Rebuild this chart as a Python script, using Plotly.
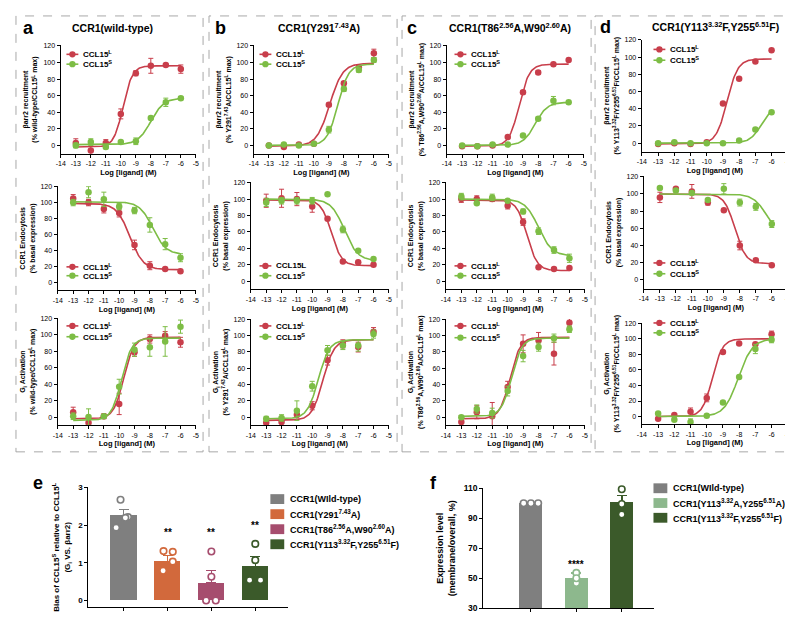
import numpy as np
import plotly.graph_objects as go

W, H = 793, 624
RED = "#c83e4b"
GREEN = "#7dbd45"
FONT = "Liberation Sans, Arial, sans-serif"

log_dose = [-13, -12, -11, -10, -9, -8, -7, -6]
x_ticks = [-14, -13, -12, -11, -10, -9, -8, -7, -6, -5]
y_ticks = [0, 20, 40, 60, 80, 100, 120]

# ---- beta-arrestin2 recruitment (top row) ----
a_barr_L = [3, -6, 3, 38, 87, 96, 97, 92]
a_barr_L_sem = [5, 5, 4, 6, 3, 9, 1, 5]
a_barr_S = [0, 4, -2, 4, 5, 33, 52, 57]
a_barr_S_sem = [3, 4, 2, 1, 4, 2, 5, 2]
a_barr_fit_L = [-2, 96, -9.85, 1.4]   # bottom, top, logEC50, hill slope
a_barr_fit_S = [1, 57, -8.0, 1.0]

b_barr_L = [0, -2, 1, 2, 49, 75, 94, 111]
b_barr_L_sem = [1, 1, 1, 1, 2, 2, 2, 5]
b_barr_S = [0, 1, 0, 2, 19, 68, 91, 103]
b_barr_S_sem = [1, 1, 1, 1, 4, 3, 3, 3]
b_barr_fit_L = [-1, 99, -8.95, 1.0]
b_barr_fit_S = [0, 98, -8.4, 1.2]

c_barr_L = [-1, -1, 0, 10, 64, 88, 98, 103]
c_barr_L_sem = [1, 1, 1, 1, 2, 2, 1, 1]
c_barr_S = [0, -1, 1, 1, 12, 32, 54, 52]
c_barr_S_sem = [1, 1, 1, 1, 1, 2, 5, 1]
c_barr_fit_L = [-1, 98, -9.25, 1.3]
c_barr_fit_S = [0, 52, -8.2, 1.1]

d_barr_L = [-1, 0, -1, 1, 46, 75, 95, 108]
d_barr_L_sem = [1, 1, 1, 1, 1, 1, 1, 1]
d_barr_S = [0, 1, 0, 0, 0, 3, 16, 36]
d_barr_S_sem = [1, 1, 1, 1, 1, 1, 1, 1]
d_barr_fit_L = [-1, 98, -8.75, 1.3]
d_barr_fit_S = [0, 45, -6.6, 1.2]

# ---- CCR1 endocytosis (middle row) ----
a_endo_L = [105, 100, 92, 87, 47, 21, 17, 14]
a_endo_L_sem = [5, 4, 5, 5, 6, 5, 1, 1]
a_endo_S = [100, 113, 104, 95, 90, 72, 48, 31]
a_endo_S_sem = [4, 7, 9, 4, 4, 9, 7, 5]
a_endo_fit_L = [16, 99, -9.3, -1.0]
a_endo_fit_S = [35, 101, -7.8, -1.0]

b_endo_L = [98, 101, 100, 91, 76, 24, 23, 20]
b_endo_L_sem = [8, 11, 8, 7, 1, 1, 1, 1]
b_endo_S = [96, 98, 98, 98, 106, 63, 37, 27]
b_endo_S_sem = [5, 4, 4, 4, 1, 4, 1, 1]
b_endo_fit_L = [19, 99, -8.75, -1.3]
b_endo_fit_S = [25, 100, -7.9, -1.0]

c_endo_L = [100, 100, 100, 92, 72, 17, 15, 16]
c_endo_L_sem = [4, 4, 3, 4, 4, 1, 1, 1]
c_endo_S = [103, 95, 102, 98, 85, 61, 38, 28]
c_endo_S_sem = [4, 1, 4, 1, 3, 4, 4, 5]
c_endo_fit_L = [13, 99, -8.75, -1.3]
c_endo_fit_S = [31, 100, -8.0, -1.0]

d_endo_L = [96, 106, 103, 90, 81, 40, 23, 17]
d_endo_L_sem = [6, 1, 8, 3, 1, 5, 1, 1]
d_endo_S = [107, 104, 101, 93, 106, 90, 85, 65]
d_endo_S_sem = [1, 1, 1, 1, 6, 4, 4, 4]
d_endo_fit_L = [19, 100, -8.3, -1.3]
d_endo_fit_S = [50, 100, -6.3, -1.0]

# ---- Gi activation (bottom row) ----
a_gi_L = [6, -7, 1, 16, 79, 95, 99, 91]
a_gi_L_sem = [6, 5, 3, 13, 5, 5, 5, 6]
a_gi_S = [1, 0, 1, 37, 82, 85, 92, 110]
a_gi_S_sem = [4, 10, 2, 9, 8, 11, 18, 8]
a_gi_fit_L = [-2, 97, -9.7, 1.3]
a_gi_fit_S = [-4, 96, -9.85, 1.3]

b_gi_L = [-7, -6, 3, 14, 70, 90, 86, 105]
b_gi_L_sem = [4, 4, 4, 5, 6, 5, 6, 5]
b_gi_S = [-2, -1, 8, 38, 82, 88, 88, 102]
b_gi_S_sem = [3, 4, 12, 6, 6, 5, 7, 5]
b_gi_fit_L = [-4, 95, -9.3, 1.2]
b_gi_fit_S = [-2, 95, -9.6, 1.2]

c_gi_L = [-6, 6, 1, 37, 90, 94, 78, 116]
c_gi_L_sem = [8, 8, 17, 7, 11, 10, 14, 5]
c_gi_S = [0, 10, 5, 32, 75, 86, 97, 108]
c_gi_S_sem = [2, 5, 6, 6, 7, 5, 5, 4]
c_gi_fit_L = [-2, 98, -9.85, 1.3]
c_gi_fit_S = [1, 97, -9.75, 1.3]

d_gi_L = [-3, 2, 6, 24, 83, 94, 93, 106]
d_gi_L_sem = [1, 1, 5, 5, 1, 1, 1, 4]
d_gi_S = [4, -4, -7, 1, 18, 51, 87, 99]
d_gi_S_sem = [1, 1, 4, 1, 1, 1, 6, 4]
d_gi_fit_L = [0, 100, -9.65, 1.4]
d_gi_fit_S = [0, 100, -8.05, 1.0]

# ---- panel e: bias ----
e_groups = ["CCR1(WIld-type)", "CCR1(Y291<sup>7.43</sup>A)",
            "CCR1(T86<sup>2.56</sup>A,W90<sup>2.60</sup>A)",
            "CCR1(Y113<sup>3.32</sup>F,Y255<sup>6.51</sup>F)"]
e_mean = [2.25, 1.04, 0.47, 0.90]
e_sem = [0.16, 0.15, 0.32, 0.26]
e_points = [[2.67, 2.21, 2.19, 1.93], [1.31, 1.29, 0.79, 1.03],
            [1.30, 0.63, 0.0, 0.0], [1.50, 1.07, 0.54, 0.54]]
e_point_dx = [[-0.07, 0.1, 0.04, -0.17], [-0.09, 0.12, -0.1, 0.12],
              [0, 0, -0.12, 0.1], [0, 0, -0.13, 0.12]]
e_colors = ["#7f7f7f", "#d2693c", "#a64d6e", "#3b5a2a"]
e_signif = ["", "**", "**", "**"]

# ---- panel f: expression ----
f_groups = ["CCR1(WIld-type)", "CCR1(Y113<sup>3.32</sup>A,Y255<sup>6.51</sup>A)",
            "CCR1(Y113<sup>3.32</sup>F,Y255<sup>6.51</sup>F)"]
f_mean = [100, 50, 100.5]
f_sem = [0, 3.5, 4.8]
f_points = [[100, 100, 100], [53.6, 46.9, 50], [109.3, 99.5, 92.5]]
f_point_dx = [[-0.16, 0, 0.16], [0, 0, 0], [0, 0, 0]]
f_colors = ["#7f7f7f", "#8db88d", "#3b5a2a"]
f_signif = ["", "****", ""]


def hill_curve(fit, lo=-13, hi=-6, n=141):
    bottom, top, logec50, slope = fit
    xs = np.linspace(lo, hi, n)
    ys = bottom + (top - bottom) / (1 + 10 ** ((logec50 - xs) * slope))
    return xs, ys


def px(x):
    return x / W


def py(y):
    return 1 - y / H


SL = "CCL15<sup>L</sup>"
SS = "CCL15<sup>S</sup>"
mut = {"a": "wild-type", "b": "Y291<sup>7.43</sup>A",
       "c": "T86<sup>2.56</sup>A,W90<sup>2.60</sup>A",
       "d": "Y113<sup>3.32</sup>F/Y255<sup>6.51</sup>F"}
g = globals()

# plot boxes (left, right, top, bottom) in pixels, and legend anchors
boxes = {
    ("a", "barr"): (48, 185, 33, 143), ("a", "endo"): (45, 185, 176, 282), ("a", "gi"): (45, 185, 310, 419),
    ("b", "barr"): (243, 380, 33, 143), ("b", "endo"): (240, 380, 172, 281), ("b", "gi"): (240, 380, 311, 419),
    ("c", "barr"): (438, 577, 33, 143), ("c", "endo"): (437, 578, 172, 281), ("c", "gi"): (437, 578, 311, 419),
    ("d", "barr"): (635, 783, 27, 141), ("d", "endo"): (637, 783, 166, 280), ("d", "gi"): (635, 783, 315, 418),
}
legpos = {
    ("a", "barr"): (60, 42, 52), ("a", "endo"): (60, 258, 267), ("a", "gi"): (60, 318, 329),
    ("b", "barr"): (255, 42, 52), ("b", "endo"): (255, 257, 267), ("b", "gi"): (255, 318, 329),
    ("c", "barr"): (452, 42, 52), ("c", "endo"): (452, 257, 267), ("c", "gi"): (452, 318, 330),
    ("d", "barr"): (653, 37, 48), ("d", "endo"): (653, 254, 265), ("d", "gi"): (653, 315, 325),
}

fig = go.Figure()
layout = {}
shapes = []
annotations = []

axis_common = dict(showline=True, linecolor="black", linewidth=1, ticks="outside",
                   ticklen=3, tickwidth=1, tickcolor="black", showgrid=False,
                   zeroline=False, mirror=False,
                   tickfont=dict(size=7, color="black", family=FONT))

idx = 0
for col in ["a", "b", "c", "d"]:
    for row in ["barr", "endo", "gi"]:
        idx += 1
        xa = "x" if idx == 1 else f"x{idx}"
        ya = "y" if idx == 1 else f"y{idx}"
        L = g[f"{col}_{row}_L"]
        S = g[f"{col}_{row}_S"]
        for vals, sem, fit, color in [
            (L, g[f"{col}_{row}_L_sem"], g[f"{col}_{row}_fit_L"], RED),
            (S, g[f"{col}_{row}_S_sem"], g[f"{col}_{row}_fit_S"], GREEN),
        ]:
            cx, cy = hill_curve(fit)
            fig.add_trace(go.Scatter(x=cx, y=cy, xaxis=xa, yaxis=ya, mode="lines",
                                     line=dict(color=color, width=1.6), showlegend=False,
                                     hoverinfo="skip"))
            fig.add_trace(go.Scatter(x=log_dose, y=vals, xaxis=xa, yaxis=ya, mode="markers",
                                     marker=dict(color=color, size=6.5),
                                     error_y=dict(type="data", array=sem, color=color,
                                                  thickness=1, width=2.5),
                                     cliponaxis=False, showlegend=False))

        xl, xr, yt, yb = boxes[(col, row)]
        if row == "barr":
            ytitle = f"βarr2 recruitment<br>(% {mut[col]}/CCL15<sup>L</sup> max)"
        elif row == "endo":
            ytitle = "CCR1 Endocytosis<br>(% basal expression)"
        else:
            ytitle = f"G<sub>i</sub> Activation<br>(% {mut[col]}/CCL15<sup>L</sup> max)"
        layout["xaxis" if idx == 1 else f"xaxis{idx}"] = dict(
            axis_common, domain=[px(xl), px(xr)], range=[-14.02, -4.98], anchor=ya,
            tickvals=x_ticks, ticktext=[str(v) for v in x_ticks],
            title=dict(text="Log [ligand] (M)", standoff=3,
                       font=dict(size=7.5, color="black", family=FONT, weight="bold")))
        layout["yaxis" if idx == 1 else f"yaxis{idx}"] = dict(
            axis_common, domain=[py(yb), py(yt)], range=[-10, 120.5], anchor=xa,
            tickvals=y_ticks,
            title=dict(text=ytitle, standoff=4,
                       font=dict(size=7, color="black", family=FONT, weight="bold")))

        # small legend inside each panel
        mx, yl, ys = legpos[(col, row)]
        lab_l = "CCL15L" if (col, row) == ("b", "endo") else SL
        for yy, color, lab in [(yl, RED, lab_l), (ys, GREEN, SS)]:
            shapes.append(dict(type="line", xref="paper", yref="paper", x0=px(mx - 6), x1=px(mx + 6),
                               y0=py(yy), y1=py(yy), line=dict(color=color, width=1.6)))
            shapes.append(dict(type="circle", xref="paper", yref="paper", x0=px(mx - 3.2), x1=px(mx + 3.2),
                               y0=py(yy + 3.2), y1=py(yy - 3.2), fillcolor=color, line=dict(width=0)))
            annotations.append(dict(x=px(mx + 9), y=py(yy), xref="paper", yref="paper", text=lab,
                                    showarrow=False, xanchor="left", yanchor="middle",
                                    font=dict(size=8, color="black", family=FONT, weight="bold")))

# ---- panel e ----
e_x = list(range(len(e_mean)))
for i, (m, s, c) in enumerate(zip(e_mean, e_sem, e_colors)):
    fig.add_trace(go.Bar(x=[i], y=[m], xaxis="x13", yaxis="y13", width=0.6,
                         marker=dict(color=c, line=dict(width=0)),
                         error_y=dict(type="data", array=[s], arrayminus=[0], symmetric=False,
                                      color=c, thickness=1.5, width=5),
                         showlegend=False))
for i, (pts, dx, c) in enumerate(zip(e_points, e_point_dx, e_colors)):
    fig.add_trace(go.Scatter(x=[i + d for d in dx], y=pts, xaxis="x13", yaxis="y13", mode="markers",
                             marker=dict(color="white", size=6.5, line=dict(color=c, width=1.6)),
                             cliponaxis=False, showlegend=False))
    if e_signif[i]:
        annotations.append(dict(x=i, y=max(pts) + 0.3, xref="x13", yref="y13", text=e_signif[i],
                                showarrow=False, yanchor="bottom",
                                font=dict(size=10, color="black", family=FONT, weight="bold")))
layout["xaxis13"] = dict(axis_common, domain=[px(76), px(278)], range=[-0.806, 3.75], anchor="y13",
                         tickvals=e_x, showticklabels=False)
layout["yaxis13"] = dict(axis_common, domain=[py(604), py(482)], range=[-0.18, 3.0], anchor="x13",
                         tickvals=[0, 1, 2, 3],
                         tickfont=dict(size=8, color="black", family=FONT, weight="bold"),
                         title=dict(text="Bias of CCL15<sup>S</sup> relative to CCL15<sup>L</sup><br>(G<sub>i</sub> VS. βarr2)",
                                    standoff=6, font=dict(size=8, color="black", family=FONT, weight="bold")))
for i, (lab, c) in enumerate(zip(e_groups, e_colors)):
    yy = 494 + 15.3 * i
    shapes.append(dict(type="rect", xref="paper", yref="paper", x0=px(260), x1=px(274),
                       y0=py(yy + 5), y1=py(yy - 5), fillcolor=c, line=dict(width=0)))
    annotations.append(dict(x=px(278), y=py(yy), xref="paper", yref="paper", text=lab, showarrow=False,
                            xanchor="left", yanchor="middle",
                            font=dict(size=9, color="black", family=FONT, weight="bold")))

# ---- panel f ----
f_x = list(range(len(f_mean)))
for i, (m, s, c) in enumerate(zip(f_mean, f_sem, f_colors)):
    fig.add_trace(go.Bar(x=[i], y=[m], xaxis="x14", yaxis="y14", width=0.51,
                         marker=dict(color=c, line=dict(width=0)),
                         error_y=dict(type="data", array=[s], arrayminus=[0], symmetric=False,
                                      color=c, thickness=1.5, width=5, visible=s > 0),
                         showlegend=False))
for i, (pts, dx, c) in enumerate(zip(f_points, f_point_dx, f_colors)):
    fig.add_trace(go.Scatter(x=[i + d for d in dx], y=pts, xaxis="x14", yaxis="y14", mode="markers",
                             marker=dict(color="white", size=6.5, line=dict(color=c, width=1.6)),
                             cliponaxis=False, showlegend=False))
    if f_signif[i]:
        annotations.append(dict(x=i, y=max(pts) + 0.5, xref="x14", yref="y14", text=f_signif[i],
                                showarrow=False, yanchor="bottom",
                                font=dict(size=10, color="black", family=FONT, weight="bold")))
layout["xaxis14"] = dict(axis_common, domain=[px(475), px(648)], range=[-1.05, 2.72], anchor="y14",
                         tickvals=f_x, showticklabels=False)
layout["yaxis14"] = dict(axis_common, domain=[py(605), py(483)], range=[30, 110], anchor="x14",
                         tickvals=[30, 50, 70, 90, 110],
                         tickfont=dict(size=8.5, color="black", family=FONT, weight="bold"),
                         title=dict(text="Expression level<br>(membrane/overall, %)",
                                    standoff=6, font=dict(size=9, color="black", family=FONT, weight="bold")))
for i, (lab, c) in enumerate(zip(f_groups, f_colors)):
    yy = 483 + 15 * i
    shapes.append(dict(type="rect", xref="paper", yref="paper", x0=px(647), x1=px(661),
                       y0=py(yy + 5), y1=py(yy - 5), fillcolor=c, line=dict(width=0)))
    annotations.append(dict(x=px(665), y=py(yy), xref="paper", yref="paper", text=lab, showarrow=False,
                            xanchor="left", yanchor="middle",
                            font=dict(size=9, color="black", family=FONT, weight="bold")))

# dashed panel frames
for x0, x1 in [(3, 192), (198, 388), (393, 584), (588, 790)]:
    shapes.append(dict(type="rect", xref="paper", yref="paper", x0=px(x0), x1=px(x1),
                       y0=py(446), y1=py(3), line=dict(color="#a8a8a8", width=1, dash="dash")))

# panel letters and titles
for letter, lx, ly in [("a", 16, 15), ("b", 210, 15), ("c", 403, 15), ("d", 599, 14),
                       ("e", 25, 478), ("f", 425, 478)]:
    annotations.append(dict(x=px(lx), y=py(ly), xref="paper", yref="paper", text=letter,
                            showarrow=False, xanchor="center", yanchor="middle",
                            font=dict(size=18, color="black", family=FONT, weight="bold")))
for title, tx, ty in [("CCR1(wild-type)", 101, 15), ("CCR1(Y291<sup>7.43</sup>A)", 309, 15),
                      ("CCR1(T86<sup>2.56</sup>A,W90<sup>2.60</sup>A)", 502, 15),
                      ("CCR1(Y113<sup>3.32</sup>F,Y255<sup>6.51</sup>F)", 710, 14)]:
    annotations.append(dict(x=px(tx), y=py(ty), xref="paper", yref="paper", text=title,
                            showarrow=False, xanchor="center", yanchor="middle",
                            font=dict(size=10.5, color="black", family=FONT, weight="bold")))

fig.update_layout(**layout)
fig.update_layout(width=W, height=H, margin=dict(l=0, r=0, t=0, b=0),
                  paper_bgcolor="white", plot_bgcolor="white", showlegend=False,
                  font=dict(family=FONT, color="black"), barmode="overlay",
                  shapes=shapes, annotations=annotations, bargap=0)

fig.write_html("out.html")
